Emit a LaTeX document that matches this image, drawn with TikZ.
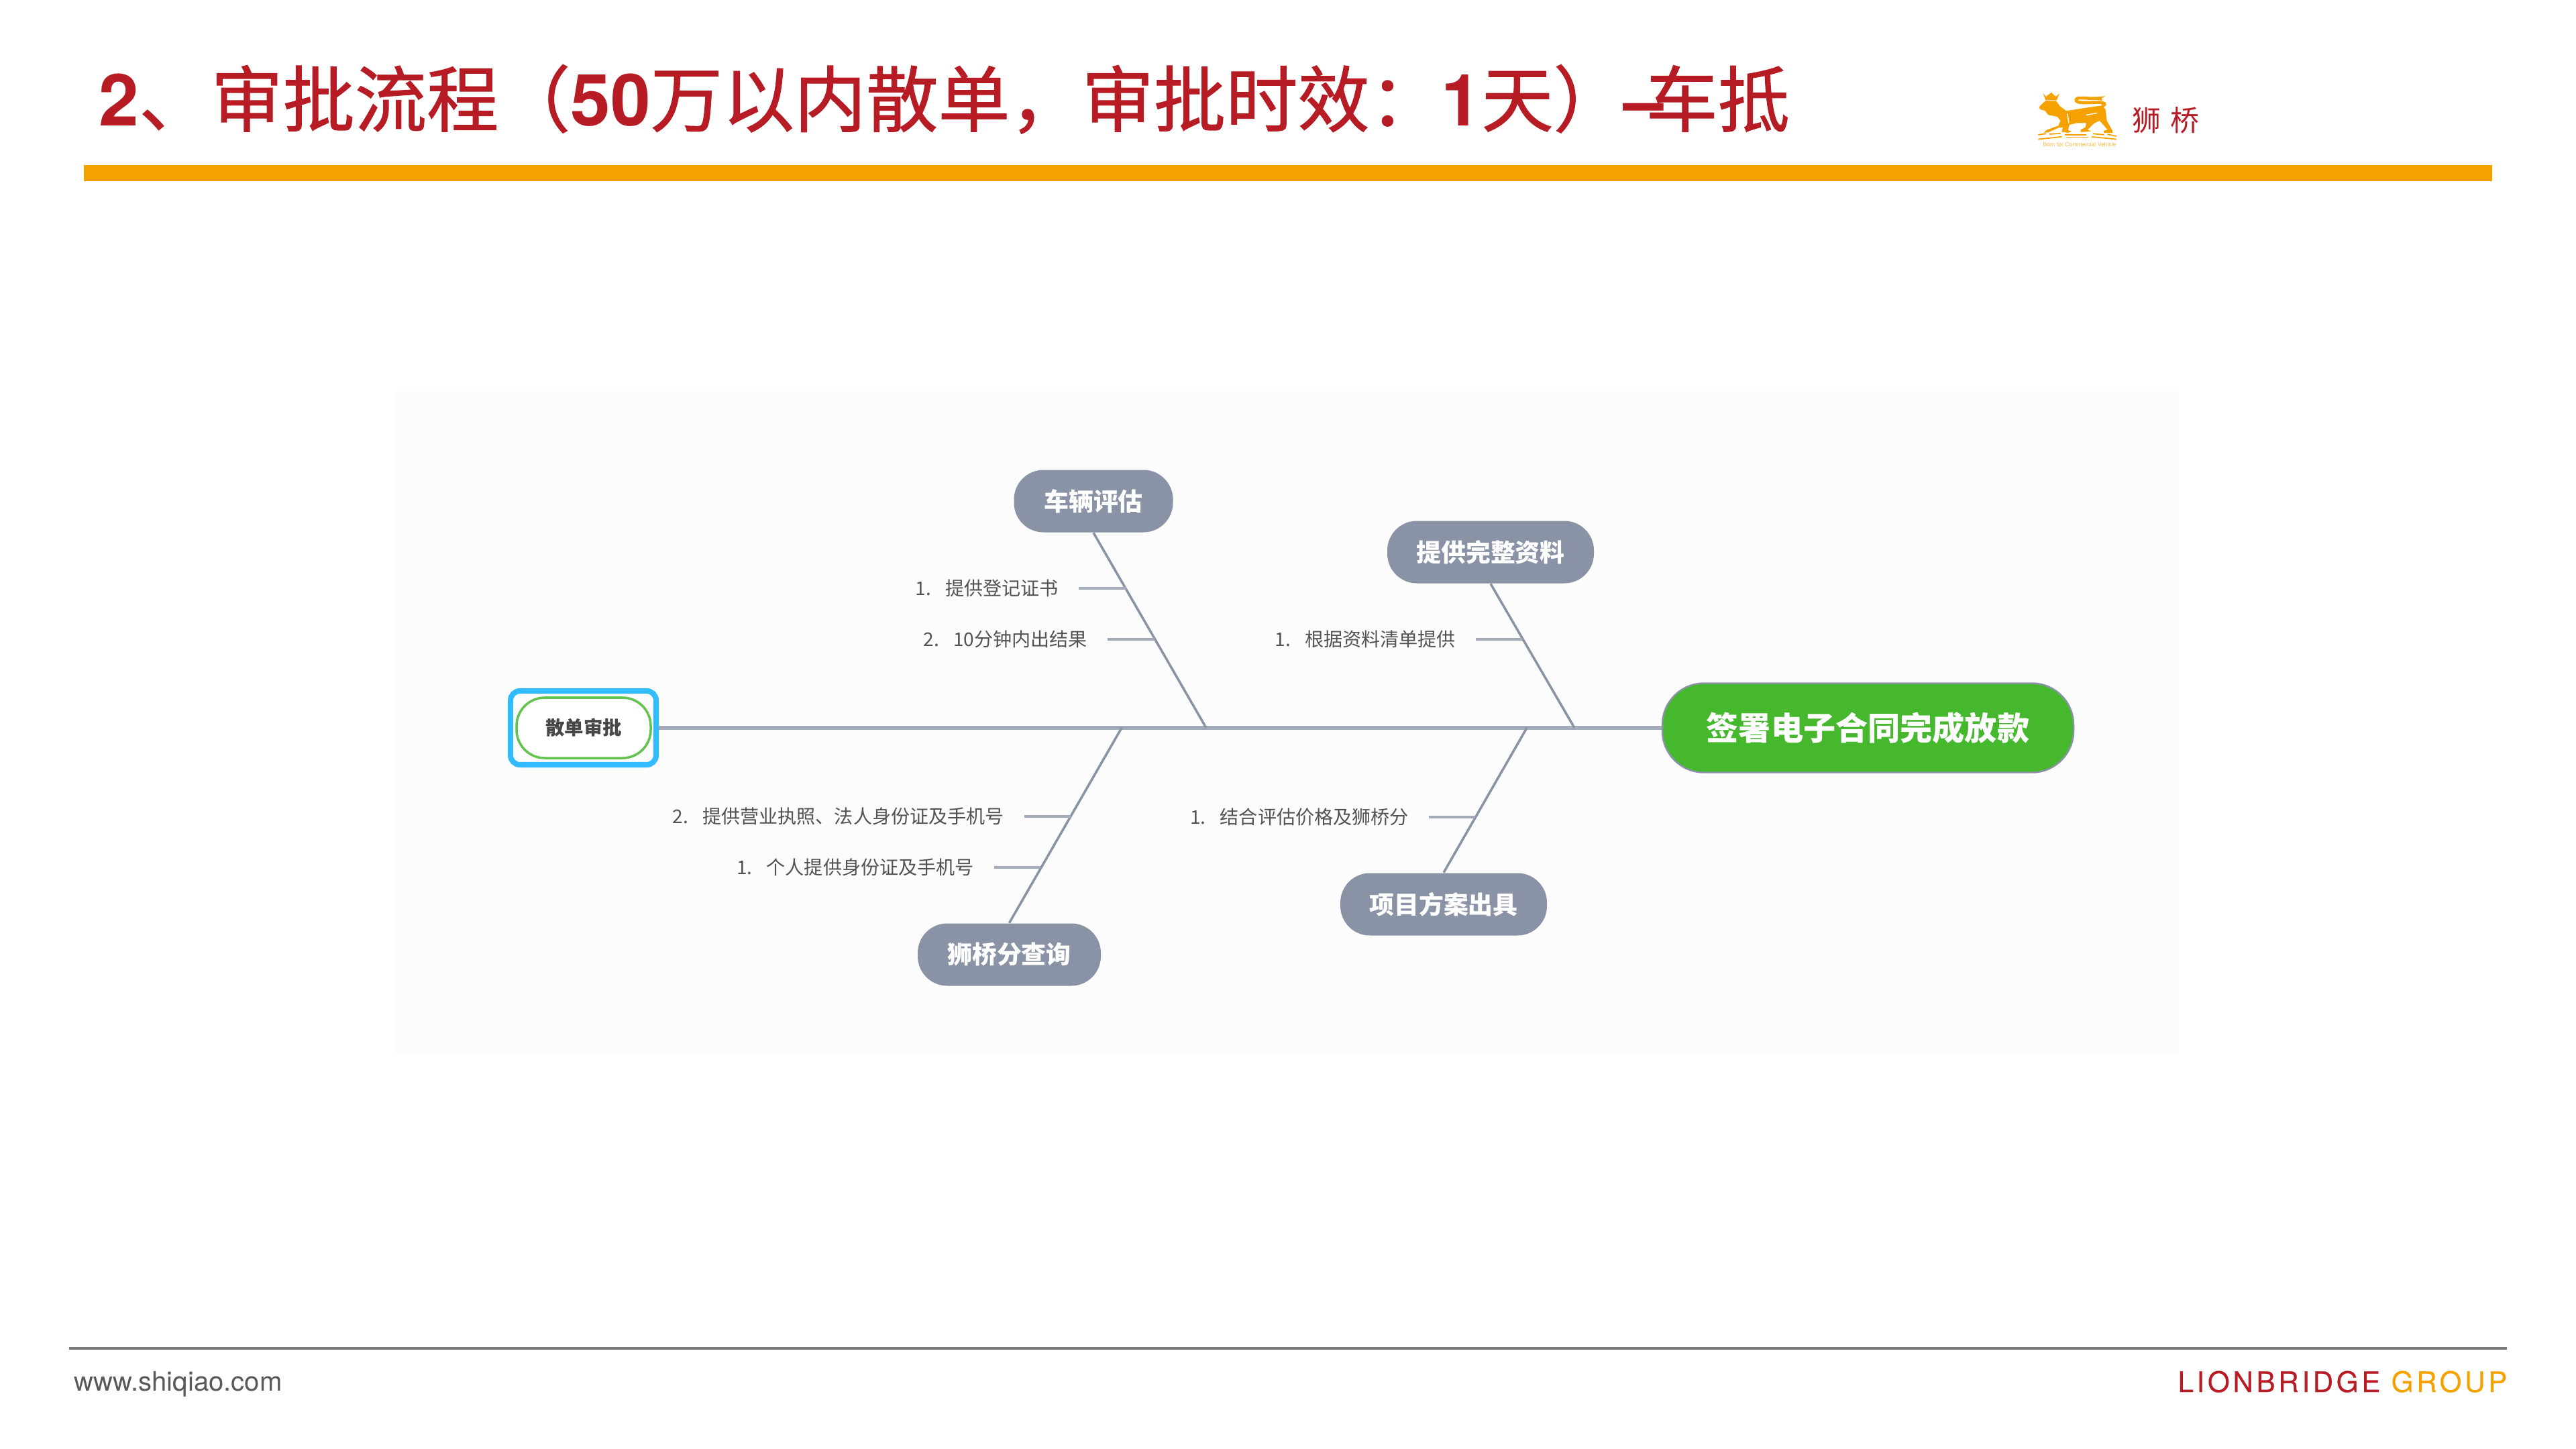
\documentclass[tikz,border=0pt]{standalone}
\usepackage{fontspec}
\setmainfont{TeX Gyre Heros}
\newfontfamily\cjk{Noto Sans CJK SC}
\newfontfamily\cjkhead[FakeBold=1]{Noto Sans CJK SC}
\definecolor{lionred}{HTML}{B71C25}
\definecolor{lionorange}{HTML}{F5A200}
\definecolor{bonegray}{HTML}{8A93A6}
\definecolor{twiggray}{HTML}{A3ABBA}
\definecolor{goalgreen}{HTML}{46B82E}
\definecolor{focusblue}{HTML}{33BBFF}
\newcommand{\tc}[1]{{\cjkhead\mdseries #1}}
\tikzset{
	topic/.style={rounded corners=0.44cm, fill=bonegray, text=white, inner sep=0pt, minimum height=0.93cm, font=\cjk\bfseries\fontsize{10.5pt}{12pt}\selectfont},
	item/.style={anchor=east, inner sep=0pt, outer xsep=0.30cm, text=black!68, font=\cjk\fontsize{8pt}{10pt}\selectfont},
	spine/.style={twiggray, line width=1.6pt},
	bone/.style={bonegray, line width=1pt},
	twig/.style={twiggray, line width=1.4pt}
}
\begin{document}
\begin{tikzpicture}[y=-1cm]
		\useasboundingbox (0,0) rectangle (38.4,21.6);
		\fill[white] (0,0) rectangle (38.4,21.6);
		
		\node[anchor=base west, inner sep=0pt, text=lionred, font=\bfseries\fontsize{30.5pt}{34pt}\selectfont] (heading) at (1.47,1.88) {2\tc{、审批流程（}50\tc{万以内散单，审批时效：}1\tc{天）}\kern-0.02em–\kern-0.25em\tc{车抵}};
		\fill[lionorange] (1.25,2.46) rectangle (37.15,2.70);
		
		\begin{scope}[shift={(30.30,1.30)}, x=0.0333mm, y=-0.0333mm, lionorange]
			\fill (47,28) -- (60,42) -- (70,34) -- (84,24) -- (94,34) -- (105,42) -- (120,28) -- (108,58) -- (58,58) -- cycle;
			\fill (28,90) -- (45,72) -- (58,61) -- (105,61) -- (122,85) -- (150,106) -- (240,92) -- (310,82) -- (326,98) -- (332,150) -- (358,196) -- (358,205) -- (318,205) -- (318,196) -- (335,190) -- (300,150) -- (275,162) -- (246,190) -- (262,198) -- (215,201) -- (215,190) -- (236,180) -- (240,160) -- (200,160) -- (165,168) -- (158,192) -- (175,198) -- (160,204) -- (130,200) -- (135,180) -- (115,182) -- (70,202) -- (50,204) -- (62,192) -- (115,172) -- (125,150) -- (110,132) -- (70,124) -- (55,105) -- (35,100) -- cycle;
			\draw[line width=1.3pt] (310,85) .. controls (335,75) and (320,68) .. (290,68) .. controls (240,68) and (190,75) .. (195,55) .. controls (200,42) and (240,52) .. (285,50);
			\fill (280,44) -- (325,40) -- (308,50) -- (312,60) -- (280,56) -- cycle;
			\draw[white, line width=0.4pt] (155,118) -- (162,160);
			\draw[white, line width=0.4pt] (240,125) -- (290,115);
			\draw[line width=0.5pt] (25,213) -- (60,208);
			\draw[line width=0.5pt] (75,210) -- (125,207);
			\draw[line width=0.5pt] (145,214) -- (240,214);
			\draw[line width=0.5pt] (270,208) -- (320,213);
			\draw[line width=0.5pt] (335,211) -- (375,219);
			\draw[line width=0.5pt] (25,233) -- (130,222);
			\draw[line width=0.5pt] (150,224) -- (250,224);
			\draw[line width=0.5pt] (265,222) -- (375,233);
		\end{scope}
		\node[text=lionorange!75, inner sep=0pt, font=\fontsize{2.45pt}{3pt}\selectfont] (motto) at (31.00,2.15) {Born for Commercial Vehicle};
		\node[text=lionred, inner sep=0pt, font=\cjk\fontsize{12.2pt}{14pt}\selectfont] (brand) at (32.28,1.79) {狮\hspace{0.33em}桥};
		
		\fill[black!1] (5.90,5.83) rectangle (32.47,15.72);
		
		\node[draw=focusblue, line width=2.3pt, rounded corners=0.14cm, minimum width=2.17cm, minimum height=1.10cm] (focus) at (8.695,10.85) {};
		\node[draw=goalgreen!85, line width=1pt, fill=white, rounded corners=0.42cm, inner sep=0pt, minimum width=2.00cm, minimum height=0.90cm, text=black!72, font=\cjk\bfseries\fontsize{8.1pt}{10pt}\selectfont] (start) at (8.70,10.85) {散单审批};
		\node[draw=bonegray, line width=0.7pt, fill=goalgreen, text=white, rounded corners=0.62cm, inner sep=0pt, minimum width=6.13cm, minimum height=1.33cm, font=\cjk\bfseries\fontsize{13.7pt}{16pt}\selectfont] (goal) at (27.845,10.85) {签署电子合同完成放款};
		
		\node[topic, minimum width=2.37cm] (assess) at (16.30,7.47) {车辆评估};
		\node[topic, minimum width=3.08cm] (papers) at (22.22,8.23) {提供完整资料};
		\node[topic, minimum width=2.73cm] (score) at (15.045,14.23) {狮桥分查询};
		\node[topic, minimum width=3.08cm] (plan) at (21.52,13.48) {项目方案出具};
		
		\coordinate (jointA) at (17.98,10.85);
		\coordinate (jointB) at (23.47,10.85);
		\coordinate (jointC) at (16.72,10.85);
		\coordinate (jointD) at (22.76,10.85);
		
		\draw[spine] (focus) -- (goal);
		\draw[bone] (assess.south) -- (jointA);
		\draw[bone] (papers.south) -- (jointB);
		\draw[bone] (score.north) -- (jointC);
		\draw[bone] (plan.north) -- (jointD);
		
		\node[item] (assessOne) at (16.08,8.77) {1.\hspace{0.75em}提供登记证书};
		\node[item] (assessTwo) at (16.51,9.53) {2.\hspace{0.75em}10分钟内出结果};
		\node[item] (papersOne) at (22.00,9.53) {1.\hspace{0.75em}根据资料清单提供};
		\node[item] (scoreTwo) at (15.27,12.17) {2.\hspace{0.75em}提供营业执照、法人身份证及手机号};
		\node[item] (scoreOne) at (14.82,12.93) {1.\hspace{0.75em}个人提供身份证及手机号};
		\node[item] (planOne) at (21.30,12.18) {1.\hspace{0.75em}结合评估价格及狮桥分};
		
		\draw[twig] (assessOne) -- (16.79,8.77) coordinate (twigA);
		\draw[twig] (assessTwo) -- (17.21,9.53) coordinate (twigB);
		\draw[twig] (papersOne) -- (22.69,9.53) coordinate (twigC);
		\draw[twig] (scoreTwo) -- (15.96,12.17) coordinate (twigD);
		\draw[twig] (scoreOne) -- (15.51,12.93) coordinate (twigE);
		\draw[twig] (planOne) -- (21.99,12.18) coordinate (twigF);
		
		\fill[black!52] (1.03,20.08) rectangle (37.37,20.12);
		\node[anchor=base west, inner sep=0pt, text=black!65, font=\fontsize{11.4pt}{13pt}\selectfont] (site) at (1.10,20.73) {www.shiqiao.com};
		\node[anchor=base east, inner sep=0pt, font=\addfontfeatures{LetterSpace=11,FakeBold=0.3}\fontsize{12pt}{14pt}\selectfont] (group) at (37.38,20.75) {\textcolor{lionred}{LIONBRIDGE} \textcolor{lionorange}{GROUP}};
	\end{tikzpicture}
\end{document}
